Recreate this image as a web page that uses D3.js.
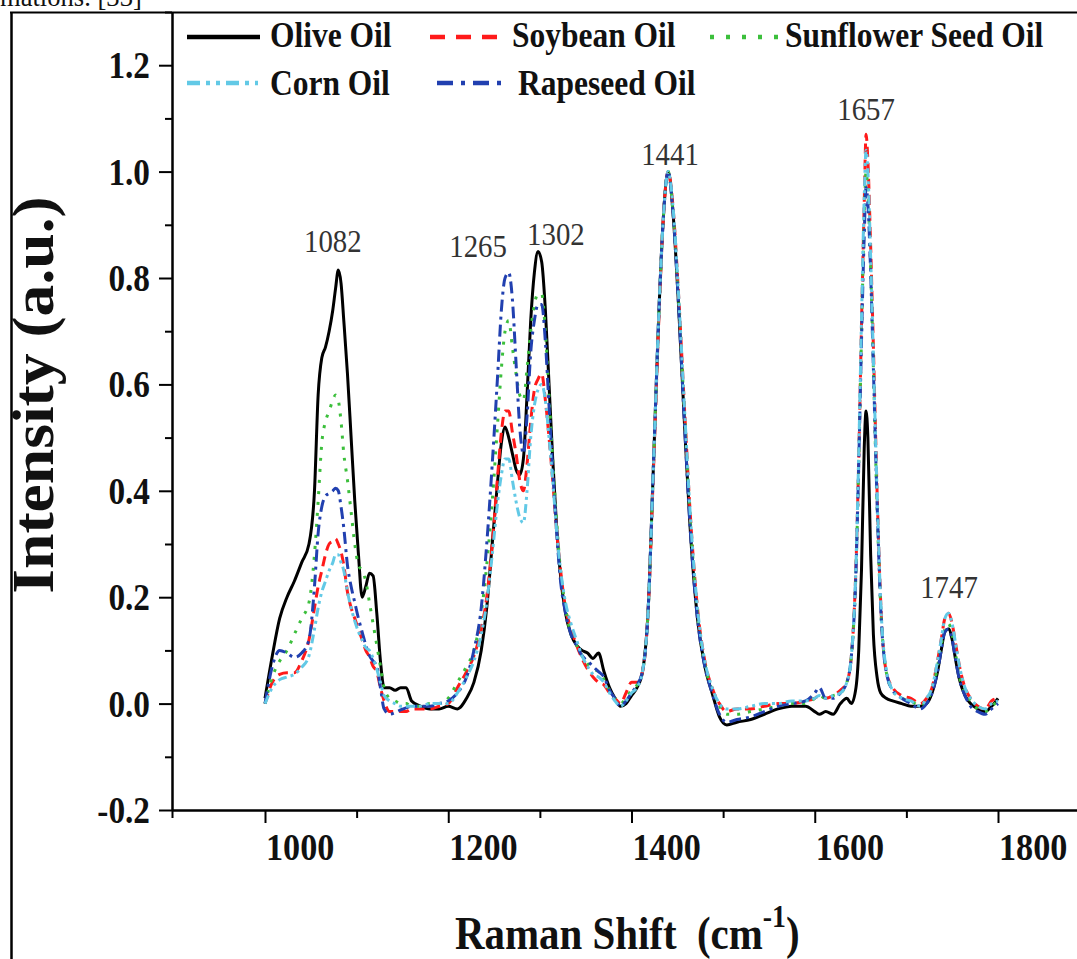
<!DOCTYPE html>
<html>
<head>
<meta charset="utf-8">
<script src="https://cdn.jsdelivr.net/npm/d3@7"></script>
<style>
  body { margin: 0; background: #fff; }
  svg text { font-family: "Liberation Serif", "Times New Roman", serif; fill: #111; }
</style>
</head>
<body>
<svg id="chart" width="1077" height="959"></svg>
<script>
// Raman shift grid (cm-1), shared by all spectra
const ramanShift = [
  1000,1008,1016,1024,1032,1040,1048,1054,1058,1062,
  1066,1070,1074,1077,1080,1083,1086,1090,1094,1098,
  1102,1106,1110,1114,1118,1122,1126,1130,1136,1142,
  1148,1154,1160,1170,1180,1190,1200,1210,1220,1228,
  1236,1242,1248,1254,1258,1262,1266,1270,1274,1278,
  1282,1286,1290,1294,1298,1302,1306,1310,1314,1318,
  1322,1328,1334,1340,1346,1352,1358,1364,1370,1376,
  1382,1388,1394,1400,1406,1412,1418,1424,1430,1435,
  1440,1445,1451,1458,1464,1472,1480,1488,1496,1504,
  1515,1530,1545,1560,1575,1590,1600,1605,1612,1620,
  1628,1635,1640,1645,1648,1651,1654,1656,1658,1661,
  1664,1668,1672,1678,1685,1695,1705,1715,1722,1728,
  1734,1738,1742,1746,1750,1754,1758,1764,1770,1778,
  1786,1793,1800
];

const oliveOil = [
  0.01,0.09,0.16,0.20,0.23,0.265,0.30,0.40,0.58,0.65,
  0.67,0.70,0.74,0.78,0.815,0.79,0.72,0.62,0.50,0.38,
  0.28,0.20,0.22,0.245,0.24,0.17,0.08,0.03,0.03,0.025,
  0.03,0.03,0.005,-0.005,-0.01,-0.01,-0.005,-0.01,0.01,0.04,
  0.10,0.18,0.30,0.42,0.49,0.52,0.50,0.47,0.44,0.43,
  0.46,0.58,0.72,0.81,0.85,0.83,0.74,0.60,0.46,0.34,
  0.25,0.17,0.13,0.11,0.10,0.095,0.085,0.095,0.06,0.03,
  0.01,-0.005,0.0,0.015,0.03,0.06,0.17,0.45,0.74,0.92,
  1.0,0.93,0.76,0.52,0.33,0.16,0.07,0.02,-0.025,-0.04,
  -0.035,-0.03,-0.02,-0.01,-0.005,-0.005,-0.015,-0.02,-0.015,-0.02,
  0.0,0.01,0.0,0.03,0.10,0.25,0.48,0.55,0.50,0.28,
  0.13,0.05,0.02,0.01,0.005,0.0,-0.005,-0.005,0.0,0.02,
  0.06,0.10,0.135,0.14,0.12,0.08,0.045,0.015,0.0,-0.01,
  -0.015,-0.005,0.01
];

const soybeanOil = [
  0.0,0.04,0.055,0.058,0.058,0.08,0.12,0.18,0.22,0.25,
  0.28,0.30,0.305,0.31,0.30,0.285,0.26,0.21,0.18,0.16,
  0.14,0.12,0.10,0.088,0.07,0.06,0.03,0.005,-0.015,-0.015,
  -0.015,-0.015,-0.01,-0.01,-0.01,-0.005,0.0,0.03,0.06,0.09,
  0.14,0.20,0.30,0.43,0.51,0.55,0.55,0.51,0.47,0.42,
  0.40,0.45,0.53,0.59,0.61,0.62,0.57,0.50,0.42,0.33,
  0.26,0.18,0.14,0.11,0.085,0.065,0.05,0.04,0.035,0.02,
  0.01,0.0,0.02,0.04,0.04,0.06,0.17,0.44,0.73,0.92,
  1.0,0.94,0.78,0.55,0.36,0.18,0.08,0.03,0.0,-0.015,
  -0.01,-0.01,-0.005,0.0,0.0,0.005,0.01,0.015,0.01,0.015,
  0.025,0.04,0.09,0.26,0.46,0.71,0.94,1.07,1.02,0.86,
  0.67,0.40,0.19,0.06,0.03,0.015,0.01,0.0,0.01,0.03,
  0.08,0.12,0.16,0.17,0.15,0.11,0.07,0.03,0.01,-0.005,
  -0.01,0.005,0.01
];

const sunflowerSeedOil = [
  0.0,0.05,0.08,0.10,0.13,0.16,0.19,0.28,0.38,0.49,
  0.53,0.55,0.57,0.58,0.57,0.53,0.47,0.42,0.36,0.30,
  0.26,0.25,0.23,0.19,0.15,0.11,0.07,0.03,0.01,0.005,
  0.0,0.0,-0.005,-0.005,0.0,0.0,0.01,0.04,0.07,0.10,
  0.17,0.26,0.38,0.53,0.63,0.70,0.72,0.67,0.62,0.58,
  0.57,0.63,0.70,0.75,0.77,0.77,0.70,0.58,0.46,0.35,
  0.26,0.18,0.13,0.11,0.09,0.075,0.065,0.06,0.045,0.025,
  0.01,0.0,0.01,0.025,0.035,0.06,0.17,0.45,0.74,0.92,
  1.0,0.93,0.77,0.54,0.35,0.17,0.075,0.025,-0.005,-0.02,
  -0.02,-0.015,-0.01,-0.005,0.0,0.0,0.01,0.015,0.01,0.015,
  0.02,0.04,0.09,0.25,0.45,0.69,0.91,1.0,0.96,0.82,
  0.63,0.37,0.18,0.06,0.025,0.01,0.005,-0.005,0.005,0.025,
  0.07,0.11,0.14,0.15,0.13,0.09,0.05,0.02,0.005,-0.01,
  -0.015,-0.005,0.005
];

const cornOil = [
  0.0,0.03,0.045,0.05,0.055,0.068,0.09,0.14,0.18,0.21,
  0.23,0.25,0.265,0.28,0.28,0.265,0.25,0.21,0.18,0.155,
  0.135,0.12,0.105,0.10,0.085,0.065,0.04,0.015,0.005,0.0,
  -0.005,-0.005,-0.005,-0.005,0.0,0.0,0.0,0.02,0.05,0.08,
  0.13,0.19,0.28,0.38,0.43,0.46,0.46,0.42,0.38,0.35,
  0.34,0.40,0.50,0.56,0.59,0.60,0.57,0.50,0.42,0.33,
  0.26,0.19,0.15,0.12,0.09,0.07,0.055,0.05,0.04,0.02,
  0.005,-0.005,0.005,0.02,0.03,0.06,0.17,0.45,0.74,0.92,
  1.0,0.94,0.78,0.55,0.36,0.18,0.08,0.03,0.0,-0.01,
  -0.01,-0.005,0.0,0.0,0.005,0.005,0.01,0.015,0.01,0.015,
  0.02,0.04,0.09,0.26,0.47,0.72,0.95,1.04,1.0,0.84,
  0.65,0.40,0.19,0.065,0.025,0.01,0.005,-0.005,0.01,0.03,
  0.08,0.12,0.16,0.17,0.15,0.11,0.07,0.03,0.01,-0.005,
  -0.01,0.0,0.005
];

const rapeseedOil = [
  0.0,0.07,0.10,0.095,0.087,0.095,0.12,0.22,0.32,0.37,
  0.39,0.395,0.40,0.405,0.40,0.37,0.33,0.26,0.22,0.19,
  0.16,0.135,0.11,0.09,0.08,0.07,0.03,-0.01,-0.02,-0.017,
  -0.012,-0.008,-0.005,-0.005,-0.005,0.0,0.005,0.02,0.05,0.10,
  0.18,0.30,0.45,0.62,0.74,0.80,0.81,0.76,0.64,0.52,
  0.47,0.54,0.66,0.72,0.75,0.75,0.68,0.56,0.44,0.33,
  0.24,0.17,0.13,0.11,0.09,0.08,0.07,0.06,0.05,0.025,
  0.01,-0.005,0.005,0.02,0.035,0.06,0.17,0.45,0.74,0.92,
  1.0,0.93,0.76,0.52,0.33,0.16,0.07,0.02,-0.02,-0.035,
  -0.03,-0.025,-0.015,-0.005,0.0,0.005,0.02,0.03,0.01,0.01,
  0.02,0.04,0.09,0.25,0.45,0.68,0.88,0.97,0.94,0.81,
  0.63,0.38,0.18,0.06,0.025,0.01,0.0,-0.01,0.0,0.02,
  0.06,0.10,0.135,0.14,0.12,0.08,0.045,0.015,-0.005,-0.015,
  -0.02,-0.01,0.0
];

const seriesNames = ["Olive Oil", "Soybean Oil", "Sunflower Seed Oil", "Corn Oil", "Rapeseed Oil"];
const seriesValues = [oliveOil, soybeanOil, sunflowerSeedOil, cornOil, rapeseedOil];

const peakLabels = ["1082", "1265", "1302", "1441", "1657", "1747"];
const peakLabelShift = [1074, 1232.5, 1317.5, 1442, 1656, 1746.5];
const peakLabelLevel = [0.848, 0.84, 0.862, 1.013, 1.097, 0.198];

const xTicks = [1000, 1200, 1400, 1600, 1800];
const xMinorTicks = [1100, 1300, 1500, 1700];
const yTicks = [-0.2, 0.0, 0.2, 0.4, 0.6, 0.8, 1.0, 1.2];
const yMinorTicks = [-0.1, 0.1, 0.3, 0.5, 0.7, 0.9, 1.1, 1.3];

// line styles, same order as seriesNames
const seriesStyle = [
  {color: "#000000", dash: null,             width: 3,   legendDash: null,            legendWidth: 4.5},
  {color: "#ff1a1a", dash: "10,6",           width: 3,   legendDash: "15,11",         legendWidth: 4.5},
  {color: "#3cbf3c", dash: "3,8",            width: 3,   legendDash: "4,12",          legendWidth: 4.5},
  {color: "#62c9e6", dash: "9,4,3,4,3,4",    width: 3,   legendDash: "13,6,4,6,4,6",  legendWidth: 4.5},
  {color: "#2140b0", dash: "12,5,3,5",       width: 3,   legendDash: "16,8,4,8",      legendWidth: 4.5}
];
const drawOrder = [0, 1, 2, 4, 3];

// legend placement: [lineStart, lineEnd, textX, lineY, textBaseline]
const legendPlace = [
  [187, 260, 270, 37, 47],
  [430, 503, 512, 37, 47],
  [710, 783, 785, 37, 47],
  [187, 258, 270, 83, 95],
  [437, 503, 518, 83, 95]
];

const svg = d3.select("#chart");
svg.append("rect").attr("width", 1077).attr("height", 959).attr("fill", "#fff");

// scales: 1000 -> 265px, 1800 -> 998px, axis runs from the y axis to the right edge
const plotLeft = 172, plotRight = 1077, plotTop = 12, plotBottom = 810;
const xScale = d3.scaleLinear().domain([1000, 1800]).range([265, 998]);
xScale.domain([xScale.invert(plotLeft), xScale.invert(plotRight)]).range([plotLeft, plotRight]);
const yScale = d3.scaleLinear().domain([-0.2, 1.3]).range([plotBottom, plotTop]);

function addText(parent, x, y, str, size, weight, anchor, sx) {
    return parent.append("text")
        .attr("transform", "translate(" + x + "," + y + ") scale(" + sx + ",1)")
        .attr("text-anchor", anchor)
        .style("font-size", size + "px")
        .style("font-weight", weight)
        .text(str);
}

// cut-off line of the surrounding page text
addText(svg, 0, 6, "mations. [33]", 28, "normal", "start", 0.95);

// outer frame
svg.append("line").attr("x1", 10).attr("x2", 1077).attr("y1", 12.5).attr("y2", 12.5)
    .attr("stroke", "#000").attr("stroke-width", 2);
svg.append("line").attr("x1", 11.5).attr("x2", 11.5).attr("y1", 12).attr("y2", 959)
    .attr("stroke", "#000").attr("stroke-width", 2.5);

// axes
function styleAxis(g) {
    g.selectAll("path, line").attr("stroke", "#000").attr("stroke-width", 2);
}

svg.append("g").attr("transform", "translate(" + plotLeft + ",0)")
    .call(d3.axisLeft(yScale).tickValues(yMinorTicks).tickSize(7).tickSizeOuter(0).tickFormat(""))
    .call(styleAxis);
svg.append("g").attr("transform", "translate(" + plotLeft + ",0)")
    .call(d3.axisLeft(yScale).tickValues(yTicks).tickSize(13).tickSizeOuter(0).tickFormat(""))
    .call(styleAxis);

svg.append("g").attr("transform", "translate(0," + plotBottom + ")")
    .call(d3.axisBottom(xScale).tickValues(xMinorTicks.concat([xScale.domain()[0]])).tickSize(8).tickSizeOuter(0).tickFormat(""))
    .call(styleAxis);
svg.append("g").attr("transform", "translate(0," + plotBottom + ")")
    .call(d3.axisBottom(xScale).tickValues(xTicks).tickSize(13).tickSizeOuter(0).tickFormat(""))
    .call(styleAxis);

yTicks.forEach(function (v) {
    addText(svg, 150, yScale(v) + 13, v.toFixed(1), 37, "bold", "end", 0.9);
});
xTicks.forEach(function (v) {
    addText(svg, xScale(v) + 1, 860, String(v), 38, "bold", "start", 0.9);
});

// axis titles
svg.append("text")
    .attr("transform", "translate(53,395) rotate(-90) scale(1.06,1)")
    .attr("text-anchor", "middle")
    .style("font-size", "60px")
    .style("font-weight", "bold")
    .text("Intensity (a.u.)");

const xTitle = svg.append("text")
    .attr("transform", "translate(455,949) scale(0.87,1)")
    .style("font-size", "47px")
    .style("font-weight", "bold");
xTitle.append("tspan").text("Raman Shift\u2002(cm");
xTitle.append("tspan").attr("dy", -22).style("font-size", "32px").text("-1");
xTitle.append("tspan").attr("dy", 22).text(")");

// spectra
const line = d3.line()
    .x(function (d) { return xScale(d.shift); })
    .y(function (d) { return yScale(d.val); })
    .curve(d3.curveMonotoneX);

drawOrder.forEach(function (i) {
    const data = ramanShift.map(function (s, k) { return {shift: s, val: seriesValues[i][k]}; });
    const st = seriesStyle[i];
    svg.append("path")
        .datum(data)
        .attr("fill", "none")
        .attr("stroke", st.color)
        .attr("stroke-width", st.width)
        .attr("stroke-dasharray", st.dash)
        .attr("stroke-linejoin", "round")
        .attr("d", line);
});

// peak annotations
peakLabels.forEach(function (t, i) {
    addText(svg, xScale(peakLabelShift[i]), yScale(peakLabelLevel[i]), t, 32, "normal", "middle", 0.9)
        .style("fill", "#333");
});

// legend
seriesNames.forEach(function (name, i) {
    const p = legendPlace[i], st = seriesStyle[i];
    svg.append("line")
        .attr("x1", p[0]).attr("x2", p[1]).attr("y1", p[3]).attr("y2", p[3])
        .attr("stroke", st.color)
        .attr("stroke-width", st.legendWidth)
        .attr("stroke-dasharray", st.legendDash);
    addText(svg, p[2], p[4], name, 35, "bold", "start", 0.9);
});
</script>
</body>
</html>
